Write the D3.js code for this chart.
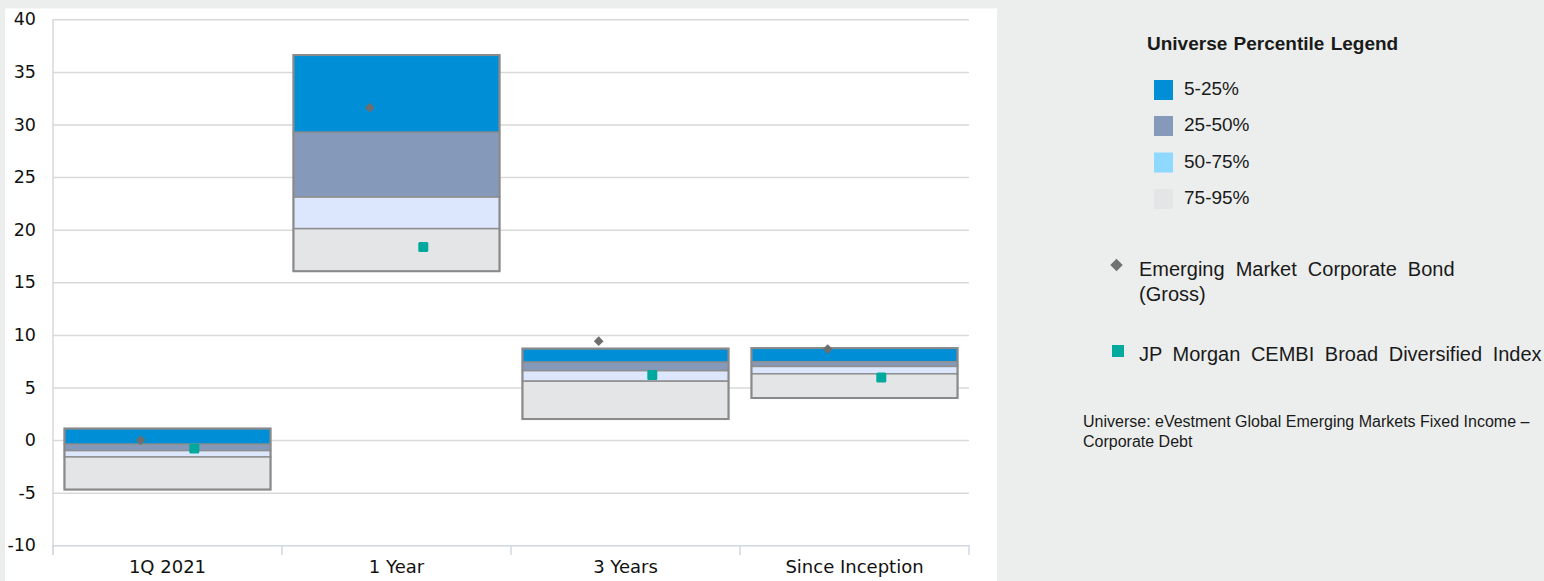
<!DOCTYPE html>
<html><head><meta charset="utf-8">
<script src="https://cdn.jsdelivr.net/npm/d3@7"></script>
<style>
html,body{margin:0;padding:0;background:#eceeed;}
svg{display:block;}
</style></head>
<body>
<svg id="chart" width="1544" height="581"></svg>
<script>
// ---- data ----
const categories = ["1Q 2021", "1 Year", "3 Years", "Since Inception"];
const p5  = [1.1, 36.6, 8.7, 8.75];
const p25 = [-0.4, 29.25, 7.4, 7.45];
const p50 = [-1.0, 23.1, 6.6, 7.0];
const p75 = [-1.6, 20.1, 5.6, 6.3];
const p95 = [-4.7, 16.05, 2.0, 4.0];
const fund = [0.0, 31.6, 9.4, 8.65];
const bench = [-0.8, 18.35, 6.2, 5.95];
const yTicks = [40, 35, 30, 25, 20, 15, 10, 5, 0, -5, -10];
const bandLabels = ["5-25%", "25-50%", "50-75%", "75-95%"];
const fundName = ["Emerging Market Corporate Bond", "(Gross)"];
const benchName = "JP Morgan CEMBI Broad Diversified Index";
const legendTitle = "Universe Percentile Legend";
const noteLines = ["Universe: eVestment Global Emerging Markets Fixed Income \u2013", "Corporate Debt"];

const bandFill = ["#008fd6", "#8599bb", "#dce6fc", "#e4e5e6"];
const legendFill = ["#008fd6", "#8599bb", "#8fd8ff", "#e4e5e6"];

const svg = d3.select("#chart");
// white panel
svg.append("rect").attr("x", 5).attr("y", 8.5).attr("width", 992).attr("height", 573).attr("fill", "#ffffff");

const x = d3.scaleBand().domain(categories).range([53, 969]).paddingInner(0.1).paddingOuter(0.05);
const y = d3.scaleLinear().domain([-10, 40]).range([545.3, 19.3]);

// gridlines
const grid = svg.append("g").attr("transform", "translate(53,0)")
  .call(d3.axisLeft(y).tickValues(yTicks.filter(v => v > -10)).tickSize(-916).tickFormat(""));
grid.select(".domain").remove();
grid.selectAll("line").attr("stroke", "#d9d9d9").attr("stroke-width", 1.5);

// y axis labels
const yAx = svg.append("g").attr("transform", "translate(53,0)")
  .call(d3.axisLeft(y).tickValues(yTicks).tickSize(0).tickPadding(17).tickFormat(d => String(d)));
yAx.select(".domain").remove();
yAx.selectAll("text").attr("font-family", "DejaVu Sans").attr("font-size", 17.5).attr("fill", "#111");

// y axis line
svg.append("line").attr("x1", 53).attr("x2", 53).attr("y1", y(40)).attr("y2", 555)
  .attr("stroke", "#d9d9d9").attr("stroke-width", 1.5);

// x axis
const xBound = d3.scaleLinear().domain([0, categories.length]).range([53, 969]);
const xAx = svg.append("g").attr("transform", `translate(0,${y(-10)})`)
  .call(d3.axisBottom(x).tickSize(0).tickPadding(15));
xAx.select(".domain").attr("stroke", "#cfd8e2").attr("stroke-width", 1.5);
xAx.selectAll("text").attr("font-family", "DejaVu Sans").attr("font-size", 18).attr("fill", "#111");
svg.append("g").selectAll("line").data(d3.range(categories.length + 1)).join("line")
  .attr("x1", d => xBound(d)).attr("x2", d => xBound(d))
  .attr("y1", y(-10)).attr("y2", 555)
  .attr("stroke", "#cfd8e2").attr("stroke-width", 1.5);

// floating boxes
const bounds = [p5, p25, p50, p75, p95];
const boxes = svg.append("g");
categories.forEach((c, i) => {
  const g = boxes.append("g");
  for (let k = 0; k < 4; k++) {
    const top = bounds[k][i], bot = bounds[k + 1][i];
    g.append("rect")
      .attr("x", x(c)).attr("width", x.bandwidth())
      .attr("y", y(top)).attr("height", y(bot) - y(top))
      .attr("fill", bandFill[k]).attr("stroke", "#8f8f8f").attr("stroke-width", 1.5);
  }
  g.append("rect")
    .attr("x", x(c)).attr("width", x.bandwidth())
    .attr("y", y(p5[i])).attr("height", y(p95[i]) - y(p5[i]))
    .attr("fill", "none").attr("stroke", "#8a8a8a").attr("stroke-width", 2);
});

// markers
const off = x.bandwidth() * 0.13;
svg.append("g").selectAll("path").data(fund).join("path")
  .attr("d", d3.symbol().type(d3.symbolDiamond2).size(60))
  .attr("transform", (d, i) => `translate(${x(categories[i]) + x.bandwidth() / 2 - off},${y(d)})`)
  .attr("fill", "#6e6e6e");
svg.append("g").selectAll("rect").data(bench).join("rect")
  .attr("x", (d, i) => x(categories[i]) + x.bandwidth() / 2 + off - 5)
  .attr("y", d => y(d) - 5).attr("width", 10).attr("height", 10).attr("rx", 1.5)
  .attr("fill", "#00a99d");

// legend
const lg = svg.append("g").attr("font-family", "Liberation Sans, Arial, sans-serif").attr("fill", "#1a1a1a");
lg.append("text").attr("x", 1147).attr("y", 50).attr("font-weight", "bold").attr("font-size", 19)
  .attr("word-spacing", 1).text(legendTitle);
const rowY = [80, 116, 152.5, 189];
bandLabels.forEach((t, k) => {
  lg.append("rect").attr("x", 1154).attr("y", rowY[k]).attr("width", 19).attr("height", 20).attr("fill", legendFill[k]);
  lg.append("text").attr("x", 1184).attr("y", rowY[k] + 15).attr("font-size", 19).text(t);
});
lg.append("path").attr("d", d3.symbol().type(d3.symbolDiamond2).size(100))
  .attr("transform", "translate(1116.5,265)").attr("fill", "#727272");
lg.append("text").attr("x", 1139).attr("y", 276).attr("font-size", 20).attr("word-spacing", 5.5).text(fundName[0]);
lg.append("text").attr("x", 1139).attr("y", 301).attr("font-size", 20).text(fundName[1]);
lg.append("rect").attr("x", 1112).attr("y", 345).attr("width", 12).attr("height", 12).attr("fill", "#00a99d");
lg.append("text").attr("x", 1139).attr("y", 361).attr("font-size", 20).attr("word-spacing", 5).text(benchName);
noteLines.forEach((t, k) => {
  lg.append("text").attr("x", 1083).attr("y", 427 + k * 20).attr("font-size", 16).text(t);
});
</script>
</body></html>
